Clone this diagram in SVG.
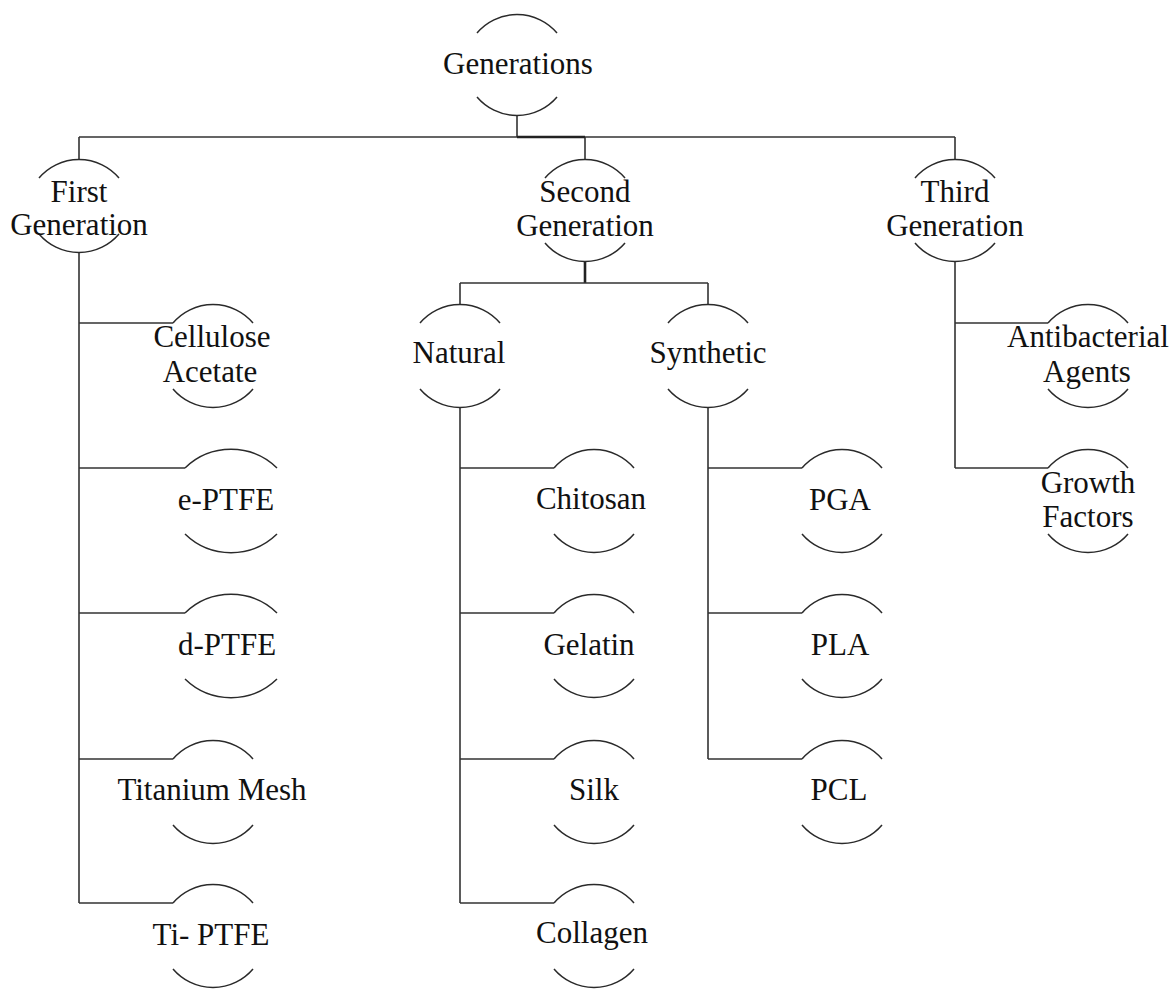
<svg xmlns="http://www.w3.org/2000/svg" width="1169" height="989" viewBox="0 0 1169 989">
  <style>
    .arc { fill: none; stroke: #2a2a2a; stroke-width: 1.5; }
    .link { fill: none; stroke: #333; stroke-width: 1.6; }
    .stem { fill: none; stroke: #222; stroke-width: 2.6; }
    text { font-family: "Liberation Serif", "Times New Roman", serif; font-size: 31px; fill: #111; text-anchor: middle; }
  </style>
  <rect width="1169" height="989" fill="#fff"/>

  <!-- connectors -->
  <g id="connectors">
    <!-- root to generations -->
    <path class="link" d="M517 115 V137 M79 137 H955 M79 137 V159 M585 137 V159 M955 137 V159"/>
    <path class="stem" d="M517 137 H585"/>
    <!-- second generation split -->
    <path class="stem" d="M585 261 V283"/>
    <path class="link" d="M460 283 H708 M460 283 V305 M708 283 V305"/>
    <!-- first generation children -->
    <path class="link" d="M79 252 V903 M79 323 H173 M79 468 H185 M79 613 H185 M79 759 H173 M79 903 H173"/>
    <!-- natural children -->
    <path class="link" d="M460 407 V903 M460 468 H554 M460 613 H554 M460 759 H554 M460 903 H554"/>
    <!-- synthetic children -->
    <path class="link" d="M708 407 V759 M708 468 H802 M708 613 H802 M708 759 H802"/>
    <!-- third generation children -->
    <path class="link" d="M955 261 V468 M955 323 H1048 M955 468 H1048"/>
  </g>

  <g id="node-generations">
    <path class="arc" d="M477 33 A52.5 52.5 0 0 1 557 33 M477 97 A52.5 52.5 0 0 0 557 97"/>
    <text x="518" y="74">Generations</text>
  </g>

  <g id="node-first">
    <path class="arc" d="M39 178 A52.5 52.5 0 0 1 119 178 M39 234 A52.5 52.5 0 0 0 119 234"/>
    <text x="79" y="202">First</text>
    <text x="79" y="235">Generation</text>
  </g>

  <g id="node-second">
    <path class="arc" d="M545 178 A52.5 52.5 0 0 1 625 178 M545 243 A52.5 52.5 0 0 0 625 243"/>
    <text x="585" y="202">Second</text>
    <text x="585" y="236">Generation</text>
  </g>

  <g id="node-third">
    <path class="arc" d="M915 178 A52.5 52.5 0 0 1 995 178 M915 243 A52.5 52.5 0 0 0 995 243"/>
    <text x="955" y="202">Third</text>
    <text x="955" y="236">Generation</text>
  </g>

  <g id="node-natural">
    <path class="arc" d="M420 323 A52.5 52.5 0 0 1 500 323 M420 389 A52.5 52.5 0 0 0 500 389"/>
    <text x="459" y="363">Natural</text>
  </g>

  <g id="node-synthetic">
    <path class="arc" d="M668 323 A52.5 52.5 0 0 1 748 323 M668 389 A52.5 52.5 0 0 0 748 389"/>
    <text x="708" y="363">Synthetic</text>
  </g>

  <!-- first generation materials -->
  <g id="node-cellulose-acetate">
    <path class="arc" d="M173 323 A52.5 52.5 0 0 1 253 323 M173 389 A52.5 52.5 0 0 0 253 389"/>
    <text x="212" y="347">Cellulose</text>
    <text x="210" y="382">Acetate</text>
  </g>

  <g id="node-e-ptfe">
    <path class="arc" d="M185 468 A66 66 0 0 1 277 468 M185 534 A66 66 0 0 0 277 534"/>
    <text x="226" y="510">e-PTFE</text>
  </g>

  <g id="node-d-ptfe">
    <path class="arc" d="M185 613 A66 66 0 0 1 277 613 M185 679 A66 66 0 0 0 277 679"/>
    <text x="227" y="655">d-PTFE</text>
  </g>

  <g id="node-titanium-mesh">
    <path class="arc" d="M173 759 A52.5 52.5 0 0 1 253 759 M173 825 A52.5 52.5 0 0 0 253 825"/>
    <text x="212" y="800">Titanium Mesh</text>
  </g>

  <g id="node-ti-ptfe">
    <path class="arc" d="M173 903 A52.5 52.5 0 0 1 253 903 M173 969 A52.5 52.5 0 0 0 253 969"/>
    <text x="211" y="945">Ti- PTFE</text>
  </g>

  <!-- natural materials -->
  <g id="node-chitosan">
    <path class="arc" d="M554 468 A52.5 52.5 0 0 1 634 468 M554 534 A52.5 52.5 0 0 0 634 534"/>
    <text x="591" y="509">Chitosan</text>
  </g>

  <g id="node-gelatin">
    <path class="arc" d="M554 613 A52.5 52.5 0 0 1 634 613 M554 679 A52.5 52.5 0 0 0 634 679"/>
    <text x="589" y="655">Gelatin</text>
  </g>

  <g id="node-silk">
    <path class="arc" d="M554 759 A52.5 52.5 0 0 1 634 759 M554 825 A52.5 52.5 0 0 0 634 825"/>
    <text x="594" y="800">Silk</text>
  </g>

  <g id="node-collagen">
    <path class="arc" d="M554 903 A52.5 52.5 0 0 1 634 903 M554 969 A52.5 52.5 0 0 0 634 969"/>
    <text x="592" y="943">Collagen</text>
  </g>

  <!-- synthetic materials -->
  <g id="node-pga">
    <path class="arc" d="M802 468 A52.5 52.5 0 0 1 882 468 M802 534 A52.5 52.5 0 0 0 882 534"/>
    <text x="840" y="510">PGA</text>
  </g>

  <g id="node-pla">
    <path class="arc" d="M802 613 A52.5 52.5 0 0 1 882 613 M802 679 A52.5 52.5 0 0 0 882 679"/>
    <text x="840" y="655">PLA</text>
  </g>

  <g id="node-pcl">
    <path class="arc" d="M802 759 A52.5 52.5 0 0 1 882 759 M802 825 A52.5 52.5 0 0 0 882 825"/>
    <text x="839" y="800">PCL</text>
  </g>

  <!-- third generation additives -->
  <g id="node-antibacterial-agents">
    <path class="arc" d="M1048 323 A52.5 52.5 0 0 1 1128 323 M1048 389 A52.5 52.5 0 0 0 1128 389"/>
    <text x="1088" y="347">Antibacterial</text>
    <text x="1087" y="382">Agents</text>
  </g>

  <g id="node-growth-factors">
    <path class="arc" d="M1048 468 A52.5 52.5 0 0 1 1128 468 M1048 534 A52.5 52.5 0 0 0 1128 534"/>
    <text x="1088" y="493">Growth</text>
    <text x="1088" y="527">Factors</text>
  </g>
</svg>
